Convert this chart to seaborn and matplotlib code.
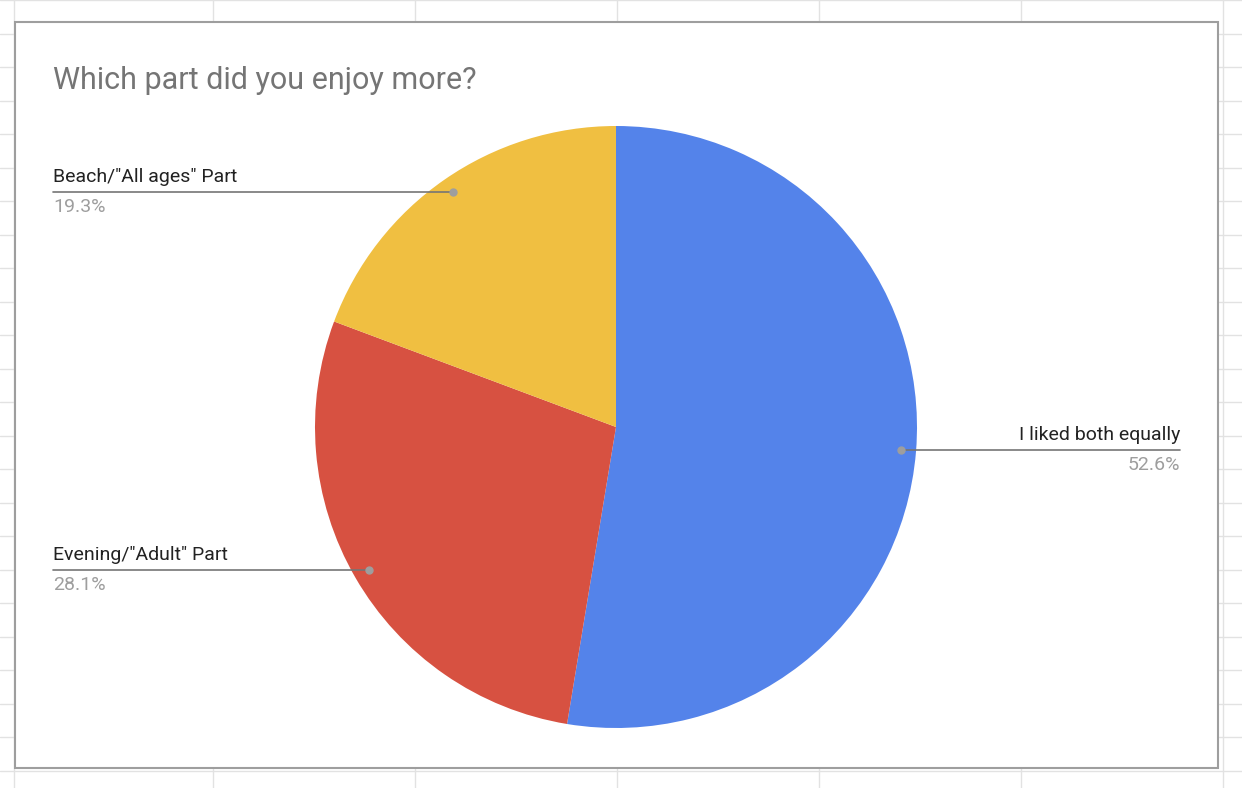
import numpy as np
import matplotlib
matplotlib.use("Agg")
import matplotlib.pyplot as plt
import seaborn as sns

sns.set_theme(style="white")
plt.rcParams['font.family'] = ['Roboto', 'DejaVu Sans']

categories = ["I liked both equally", "Evening/\"Adult\" Part", "Beach/\"All ages\" Part"]
values = [52.6, 28.1, 19.3]
pct_labels = ["52.6%", "28.1%", "19.3%"]
colors = ["#5483EA", "#D75141", "#F0BF41"]

W, H = 1242, 788
fig = plt.figure(figsize=(W/100, H/100), dpi=100)
ax = fig.add_axes([0, 0, 1, 1])
ax.set_xlim(0, W); ax.set_ylim(0, H); ax.set_aspect('equal'); ax.axis('off')

# spreadsheet grid background
for x in [14, 213, 415, 617, 819, 1021, 1223]:
    ax.plot([x, x], [0, H], color="#E2E2E2", lw=1, zorder=0)
for y in np.arange(H - 0, 0, -33.5):
    ax.plot([0, W], [y, y], color="#E2E2E2", lw=1, zorder=0)
ax.add_patch(plt.Rectangle((15, H-768), 1203, 746, facecolor="white", edgecolor="#9E9E9E", lw=1.5, zorder=1))

ax.text(53, H-80, "Which part did you enjoy more?", fontsize=22, color="#757575", va="center", ha="left", zorder=3)

cx, cy, R = 616, H-427, 301
wedges, _ = ax.pie(values, colors=colors, startangle=90, counterclock=False,
                   center=(cx, cy), radius=R, frame=True,
                   wedgeprops=dict(linewidth=0, zorder=2))
ax.set_xlim(0, W); ax.set_ylim(0, H); ax.axis('off')

for w, cat, pct in zip(wedges, categories, pct_labels):
    ang = np.deg2rad((w.theta1 + w.theta2) / 2)
    px, py = cx + 0.95*R*np.cos(ang), cy + 0.95*R*np.sin(ang)
    if np.cos(ang) > 0:
        ex, ha = 1180, "right"
    else:
        ex, ha = 53, "left"
    ax.plot([px, ex], [py, py], color="#757575", lw=1.2, zorder=3)
    ax.plot(px, py, 'o', color="#9E9E9E", ms=5, zorder=4)
    ax.text(ex, py + 15, cat, fontsize=14, color="#222222", ha=ha, va="center", zorder=4)
    ax.text(ex, py - 15, pct, fontsize=14, color="#9E9E9E", ha=ha, va="center", zorder=4)

fig.savefig("out.png", dpi=100)
